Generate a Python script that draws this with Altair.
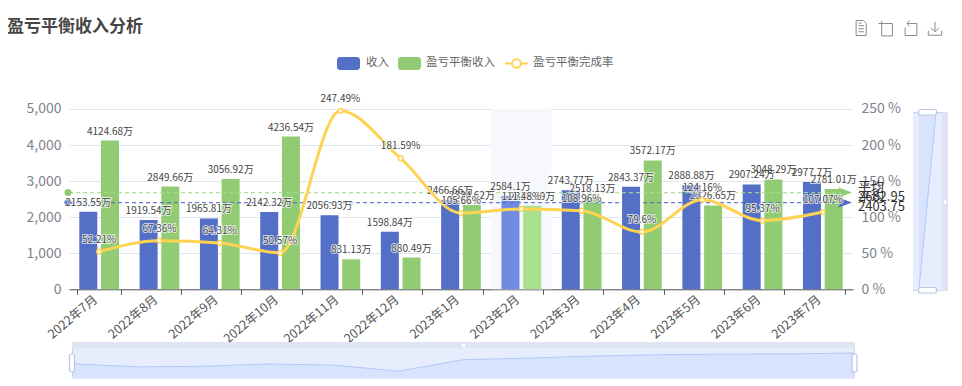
import altair as alt
import pandas as pd

months = ["2022年7月", "2022年8月", "2022年9月", "2022年10月", "2022年11月", "2022年12月", "2023年1月",
          "2023年2月", "2023年3月", "2023年4月", "2023年5月", "2023年6月", "2023年7月"]
income = [2153.55, 1919.54, 1965.81, 2142.32, 2056.93, 1598.84, 2466.66, 2584.1, 2743.77, 2843.37, 2888.88, 2907.24, 2977.7]
breakeven = [4124.68, 2849.66, 3056.92, 4236.54, 831.13, 880.49, 2334.62, 2318.09, 2518.13, 3572.17, 2326.65, 3048.29, 2781.01]
rate = [52.21, 67.36, 64.31, 50.57, 247.49, 181.59, 105.66, 111.48, 108.96, 79.6, 124.16, 95.37, 107.07]
avg_income = 2403.75
avg_breakeven = 2682.95
S1, S2 = "收入", "盈亏平衡收入"
S3 = "盈亏平衡完成率"
HOVER = "2023年2月"

BLUE, GREEN, YELLOW = "#5470c6", "#91cc75", "#ffd352"
BLUE_HI, GREEN_HI = "#6f8ce0", "#a8e08e"
FONT = "Noto Sans CJK SC"
X0, Y0, W, H = 69, 109, 784, 180.3


def fmt(v):
    return f"{v:.2f}".rstrip("0").rstrip(".")


bars_df = pd.DataFrame(
    [{"m": m, "s": S1, "v": v, "t": fmt(v) + "万"} for m, v in zip(months, income)]
    + [{"m": m, "s": S2, "v": v, "t": fmt(v) + "万"} for m, v in zip(months, breakeven)]
)
rate_df = pd.DataFrame({"m": months, "r": rate, "t": [fmt(r) + "%" for r in rate]})
slider_df = pd.DataFrame({"i": list(range(len(income))), "v": income})
avg_df = pd.DataFrame({"v": [avg_breakeven, avg_income], "t": [fmt(avg_breakeven), fmt(avg_income)]})


def X(axis=None):
    return alt.X("m:N", title=None, sort=months,
                 scale=alt.Scale(domain=months, paddingInner=0.28, paddingOuter=0.14), axis=axis)


x_axis = alt.Axis(title=None, labelAngle=320, labelAlign="right", labelBaseline="middle", tickBand="extent",
                  labelFontSize=12.5, labelColor="#555555", domainColor="#555555", tickColor="#555555",
                  tickSize=5, labelPadding=3, labelOffset=-4, grid=False, labelFont=FONT)
left_axis = alt.Axis(title=None, values=[0, 1000, 2000, 3000, 4000, 5000], labelExpr="format(datum.value, ',')",
                     domain=False, ticks=False, gridColor="#e0e6f1", labelFontSize=14, labelColor="#7f828b",
                     labelPadding=8, labelFont=FONT)
right_axis = alt.Axis(title=None, orient="right", values=[0, 50, 100, 150, 200, 250], labelExpr="datum.value + ' %'",
                      domain=False, ticks=False, grid=False, labelFontSize=14, labelColor="#7f828b",
                      labelPadding=8, labelFont=FONT)
Y_L = alt.Y("v:Q", title=None, scale=alt.Scale(domain=[0, 5000], nice=False), axis=left_axis)
Y_R = alt.Y("r:Q", title=None, scale=alt.Scale(domain=[0, 250], nice=False), axis=right_axis)
XOFF = alt.XOffset("s:N", scale=alt.Scale(domain=[S1, S2]))


def txt(s, x, y, size=11.5, color="#666666", align="left", weight="normal"):
    return alt.Chart(alt.Data(values=[{"t": s}])).mark_text(
        font=FONT, fontSize=size, color=color, align=align, baseline="middle", fontWeight=weight
    ).encode(text="t:N", x=alt.value(x - X0), y=alt.value(y - Y0))


def box(x1, y1, x2, y2, color, **kw):
    return alt.Chart(alt.Data(values=[{"a": 0}])).mark_rect(color=color, **kw).encode(
        x=alt.value(x1 - X0), x2=alt.value(x2 - X0), y=alt.value(y1 - Y0), y2=alt.value(y2 - Y0))


def glyph(path, x, y, size=225):
    return alt.Chart(alt.Data(values=[{"a": 0}])).mark_point(
        shape=path, size=size, filled=False, stroke="#8a8a8a", strokeWidth=1, opacity=1
    ).encode(x=alt.value(x - X0), y=alt.value(y - Y0))


# ---- main plot ----
shade = alt.Chart(pd.DataFrame({"m": [HOVER]})).mark_bar(size=60.3, color="#f7f8fd").encode(
    x=X(x_axis), y=alt.value(0), y2=alt.value(H))


def bar_layer(name, base, hi):
    return alt.Chart(bars_df).transform_filter(alt.datum.s == name).mark_bar(size=18).encode(
        x=X(x_axis), xOffset=XOFF, y=Y_L,
        color=alt.condition(alt.datum.m == HOVER, alt.value(hi), alt.value(base)))


avg_rules = [
    alt.Chart(pd.DataFrame({"v": [val]})).mark_rule(color=col, strokeDash=[4, 3], strokeWidth=1.2, opacity=op).encode(
        y=Y_L, x=alt.value(0), x2=alt.value(W))
    for val, col, op in [(avg_breakeven, "#a4dc88", 0.85), (avg_income, BLUE, 0.9)]
]
avg_dots = [
    alt.Chart(pd.DataFrame({"v": [val]})).mark_point(shape="circle", filled=True, size=50, color=col, opacity=1).encode(
        y=Y_L, x=alt.value(-1))
    for val, col in [(avg_breakeven, GREEN), (avg_income, BLUE)]
]
ARROW = "M-1,-0.75 L1,0 L-1,0.75 L-0.55,0 Z"
avg_arrows = [
    alt.Chart(pd.DataFrame({"v": [val]})).mark_point(shape=ARROW, filled=True, size=196, color=col, opacity=1).encode(
        y=Y_L, x=alt.value(W - 8))
    for val, col in [(avg_breakeven, GREEN), (avg_income, BLUE)]
]
avg_labels = alt.Chart(avg_df).mark_text(font=FONT, fontSize=13, color="#333333", align="left", baseline="middle", dy=4).encode(
    y=Y_L, x=alt.value(789), text="t:N")
avg_heads = alt.Chart(avg_df).mark_text(font=FONT, fontSize=13, color="#333333", align="left", baseline="middle", dy=-6).encode(
    y=Y_L, x=alt.value(789), text=alt.value("平均"))

halo_b = alt.Chart(bars_df).mark_text(font=FONT, fontSize=10, baseline="bottom", dy=-4, stroke="white", strokeWidth=2,
                                      strokeOpacity=0.7, color="white").encode(x=X(x_axis), xOffset=XOFF, y=Y_L, text="t:N")
text_b = alt.Chart(bars_df).mark_text(font=FONT, fontSize=10, baseline="bottom", dy=-4, color="#444444").encode(
    x=X(x_axis), xOffset=XOFF, y=Y_L, text="t:N")

left = alt.layer(shade, bar_layer(S1, BLUE, BLUE_HI), bar_layer(S2, GREEN, GREEN_HI), *avg_rules, *avg_dots, *avg_arrows,
                 avg_heads, avg_labels, halo_b, text_b)

line = alt.Chart(rate_df).mark_line(color=YELLOW, strokeWidth=3, interpolate="monotone").encode(x=X(), y=Y_R)
pts = alt.Chart(rate_df).mark_point(shape="circle", filled=True, fill="white", stroke=YELLOW, strokeWidth=1.5, size=22, opacity=1).encode(
    x=X(), y=Y_R)
halo_r = alt.Chart(rate_df).mark_text(font=FONT, fontSize=10, baseline="bottom", dy=-7, stroke="white", strokeWidth=2,
                                      strokeOpacity=0.7, color="white").encode(x=X(), y=Y_R, text="t:N")
text_r = alt.Chart(rate_df).mark_text(font=FONT, fontSize=10, baseline="bottom", dy=-7, color="#444444").encode(
    x=X(), y=Y_R, text="t:N")
right = alt.layer(line, pts, halo_r, text_r)

# ---- legend ----
legend_line = alt.Chart(alt.Data(values=[{"a": 0}])).mark_rule(color=YELLOW, strokeWidth=2).encode(
    x=alt.value(505 - X0), x2=alt.value(528 - X0), y=alt.value(63.5 - Y0))
legend_dot = alt.Chart(alt.Data(values=[{"a": 0}])).mark_point(
    shape="circle", filled=True, fill="white", stroke=YELLOW, strokeWidth=2, size=75, opacity=1
).encode(x=alt.value(516.5 - X0), y=alt.value(63.5 - Y0))
legend = [
    box(337, 57, 360, 70, BLUE, cornerRadius=3), txt(S1, 366, 63),
    box(398, 57, 421, 70, GREEN, cornerRadius=3), txt(S2, 426, 63),
    legend_line, legend_dot, txt(S3, 533, 63),
]

title = txt("盈亏平衡收入分析", 7, 27, size=17, color="#464646", weight="bold")

# ---- toolbar ----
toolbar = [
    glyph("M-0.65,-1 L0.3,-1 L0.7,-0.6 L0.7,1 L-0.65,1 Z M-0.35,-0.3 L0.4,-0.3 M-0.35,0.1 L0.4,0.1 M-0.35,0.5 L0.4,0.5 M-0.35,-0.65 L0.1,-0.65", 861, 28),
    glyph("M-0.55,-0.8 L1,-0.8 L1,1 L-0.55,1 Z M-1,-0.8 L-0.55,-0.8 M-0.55,-1.2 L-0.55,-0.8", 885.5, 29, 190),
    glyph("M-0.6,-0.85 L0.9,-0.85 L0.9,1 L-0.9,1 L-0.9,-0.2 M-0.6,-0.85 L-0.2,-1.3 M-0.6,-0.85 L-0.2,-0.4", 911, 29, 170),
    glyph("M0,-1 L0,0.45 M-0.6,-0.1 L0,0.5 L0.6,-0.1 M-1,0.35 L-1,1 L1,1 L1,0.35", 935, 28.5, 180),
]

# ---- bottom slider ----
sx = alt.X("i:Q", title=None, axis=None, scale=alt.Scale(domain=[0, 12], range=[72 - X0, 855 - X0], nice=False, zero=False))
sy = alt.Y("v:Q", title=None, axis=None, scale=alt.Scale(domain=[1150, 3000], range=[377 - Y0, 352.7 - Y0], nice=False, zero=False))
bottom_slider = alt.layer(
    box(72, 342, 855, 348, "#dfe4f2"),
    box(72, 348, 855, 377, "#e6edfd"),
    box(462, 344, 465, 347, "#ffffff"),
    alt.Chart(slider_df).mark_area(color="#d2e0fc", line={"color": "#b3c8f8", "strokeWidth": 1}).encode(x=sx, y=sy),
    box(72, 348, 72.8, 377, "#c0cdea"),
    box(854.3, 348, 855, 377, "#c0cdea"),
    box(69.5, 354, 74.5, 372, "#ffffff", stroke="#b9c6e6", strokeWidth=1.2, cornerRadius=2),
    box(852, 354, 857, 372, "#ffffff", stroke="#b9c6e6", strokeWidth=1.2, cornerRadius=2),
).resolve_scale(x="independent", y="independent")

# ---- right slider ----
vx = alt.X("a:Q", title=None, axis=None, scale=alt.Scale(domain=[0, 1], range=[919 - X0, 936 - X0], nice=False, zero=False))
vy = alt.Y("b:Q", title=None, axis=None, scale=alt.Scale(domain=[0, 1], range=[289 - Y0, 113 - Y0], nice=False, zero=False))
shadow_a = [0, 1]
shadow_b = [0, 1]
right_slider = alt.layer(
    box(942, 112, 948, 291, "#dfe4f2"),
    box(913, 112, 942, 291, "#e6edfd"),
    alt.Chart(pd.DataFrame({"a": shadow_a, "b": shadow_b})).mark_area(
        color="#d2e0fc", orient="horizontal", line={"color": "#b3c8f8", "strokeWidth": 1}
    ).encode(x=vx, x2=alt.value(913 - X0), y=vy),
    box(913, 112, 942, 112.8, "#c0cdea"),
    box(913, 290.2, 942, 291, "#c0cdea"),
    box(944, 200, 946, 204, "#ffffff"),
    box(918.5, 109.5, 936.5, 115, "#ffffff", stroke="#b9c6e6", strokeWidth=1.2, cornerRadius=2),
    box(918.5, 287.5, 936.5, 293, "#ffffff", stroke="#b9c6e6", strokeWidth=1.2, cornerRadius=2),
).resolve_scale(x="independent", y="independent")

chart = alt.layer(left, right, title, *legend, *toolbar, bottom_slider, right_slider).resolve_scale(
    x="independent", y="independent"
).properties(
    width=W, height=H,
    autosize=alt.AutoSizeParams(type="none"),
    padding={"left": X0 - 8, "top": Y0 - 8, "right": 101, "bottom": 90},
    background="white",
).configure_view(stroke=None)

chart.save("out.html", embed_options={"renderer": "svg", "actions": False})
